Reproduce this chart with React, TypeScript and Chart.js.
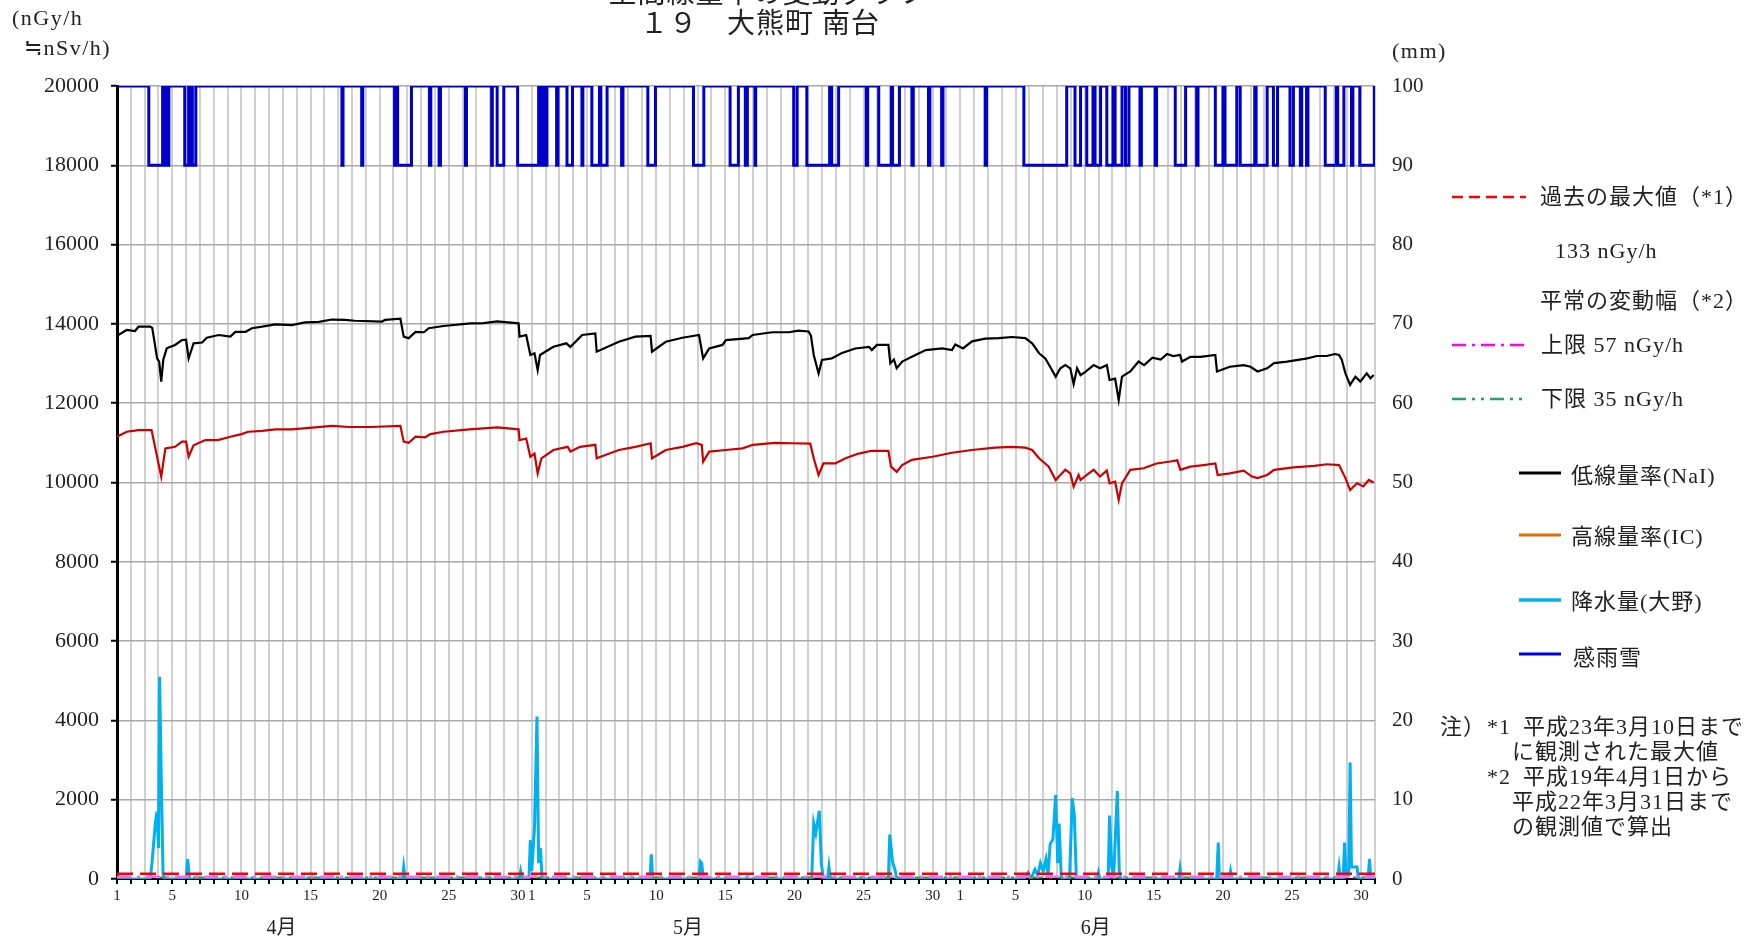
import { useEffect, useRef } from 'react';
import { Chart, registerables } from 'chart.js';

Chart.register(...registerables);

// ---------- data ----------
// time axis: days since 1 April (0 .. 91)
const monthNames = ['4月', '5月', '6月'];
const monthStartDay = [0, 30, 61];
const monthLabelDay = [11.9, 41.3, 70.8];
const shownDays = [1, 5, 10, 15, 20, 25, 30];

const leftTicksMax = 20000;
const rightTicksMax = 100;

// 低線量率 (NaI) nGy/h
const naiT = [0, 0.7, 1.3, 1.56, 2.4, 2.55, 2.9, 3.05, 3.2, 3.35, 3.6, 4.2, 4.7, 5.0, 5.18, 5.54, 6.15, 6.5, 7.35, 8.2, 8.56, 9.3, 9.76, 10.5, 11.45, 12.65, 13.6, 14.6, 15.55, 16.5, 17.2, 19.16, 19.4, 20.5, 20.74, 21.1, 21.6, 22.2, 22.55, 23.63, 25.56, 26.5, 27.5, 29.05, 29.12, 29.6, 29.9, 30.2, 30.43, 30.6, 31.57, 32.5, 32.8, 33.65, 34.6, 34.7, 36.3, 37.5, 38.6, 38.7, 39.7, 40.9, 42.1, 42.4, 42.84, 43.8, 44.05, 45.7, 45.98, 47.4, 48.6, 49.3, 50.03, 50.2, 50.4, 50.75, 51.0, 51.7, 52.4, 53.4, 54.4, 54.6, 54.97, 55.8, 55.94, 56.2, 56.4, 56.8, 57.5, 58.5, 59.7, 60.4, 60.64, 61.2, 61.85, 62.8, 63.8, 64.74, 65.7, 66.2, 66.7, 67.15, 67.5, 67.9, 68.24, 68.6, 68.96, 69.2, 69.45, 69.7, 70.05, 70.65, 71.1, 71.6, 71.8, 72.2, 72.46, 72.7, 73.3, 73.9, 74.3, 74.9, 75.5, 75.96, 76.4, 76.9, 77.04, 77.65, 78.37, 79.45, 79.57, 80.5, 81.5, 82.0, 82.5, 83.2, 83.7, 84.64, 86.1, 86.8, 87.5, 88.1, 88.4, 88.6, 88.86, 89.2, 89.58, 89.94, 90.4, 90.67, 90.9];
const naiV = [13700, 13846, 13820, 13930, 13930, 13900, 13130, 13050, 12543, 13100, 13384, 13470, 13590, 13600, 13130, 13510, 13530, 13650, 13720, 13680, 13800, 13800, 13890, 13930, 13990, 13970, 14040, 14050, 14110, 14100, 14080, 14060, 14100, 14130, 13680, 13640, 13800, 13790, 13890, 13947, 14015, 14020, 14065, 14015, 13680, 13720, 13215, 13260, 12837, 13215, 13425, 13510, 13420, 13720, 13760, 13300, 13550, 13680, 13700, 13300, 13550, 13650, 13720, 13130, 13380, 13470, 13590, 13640, 13720, 13790, 13790, 13830, 13810, 13700, 13215, 12754, 13090, 13130, 13260, 13380, 13420, 13340, 13470, 13470, 13006, 13100, 12880, 13050, 13170, 13340, 13380, 13340, 13480, 13380, 13560, 13630, 13640, 13670, 13640, 13510, 13260, 13130, 12920, 12670, 12880, 12960, 12880, 12484, 12880, 12710, 12790, 12960, 12880, 12960, 12585, 12620, 12080, 12670, 12800, 13050, 12960, 13150, 13100, 13240, 13190, 13215, 13050, 13170, 13170, 13215, 12800, 12920, 12960, 12920, 12800, 12880, 13010, 13050, 13130, 13190, 13190, 13240, 13215, 13090, 12754, 12460, 12670, 12544, 12754, 12630, 12710];

// 高線量率 (IC) nGy/h
const icT = [0, 0.7, 1.56, 2.5, 2.9, 3.2, 3.5, 4.2, 4.7, 5.0, 5.18, 5.54, 6.4, 7.3, 8.2, 9.0, 9.5, 10.5, 11.45, 12.65, 14.35, 15.55, 16.8, 18.3, 20.5, 20.74, 21.1, 21.6, 22.3, 22.67, 23.63, 25.5, 27.5, 29.05, 29.12, 29.6, 29.9, 30.2, 30.43, 30.7, 31.57, 32.6, 32.8, 33.5, 34.6, 34.7, 36.3, 37.5, 38.6, 38.7, 39.7, 40.9, 41.9, 42.3, 42.4, 42.84, 44.05, 45.25, 46.0, 47.6, 48.8, 50.15, 50.4, 50.75, 51.1, 51.96, 52.7, 53.65, 54.6, 55.8, 55.99, 56.4, 56.8, 57.5, 59.0, 60.4, 61.85, 63.5, 64.74, 65.7, 66.2, 66.7, 67.4, 67.9, 68.24, 68.6, 68.96, 69.2, 69.56, 69.7, 70.15, 70.65, 71.1, 71.6, 71.8, 72.2, 72.46, 72.7, 73.3, 74.27, 75.2, 76.2, 76.7, 76.92, 77.65, 78.6, 79.45, 79.62, 80.5, 81.5, 82.1, 82.5, 83.2, 83.7, 85.1, 86.6, 87.53, 88.4, 88.86, 89.2, 89.7, 90.15, 90.55, 90.9];
const icV = [11155, 11280, 11323, 11323, 10650, 10146, 10860, 10900, 11030, 11030, 10650, 10940, 11070, 11070, 11155, 11220, 11280, 11300, 11340, 11340, 11390, 11430, 11400, 11400, 11430, 11030, 11000, 11155, 11140, 11220, 11280, 11340, 11390, 11340, 11070, 11110, 10650, 10730, 10230, 10610, 10820, 10900, 10780, 10900, 10950, 10610, 10820, 10900, 10990, 10610, 10820, 10900, 10990, 10950, 10525, 10780, 10820, 10860, 10950, 11000, 10990, 10980, 10610, 10190, 10480, 10480, 10610, 10730, 10800, 10800, 10400, 10270, 10440, 10570, 10650, 10750, 10820, 10880, 10900, 10880, 10820, 10610, 10400, 10063, 10190, 10320, 10230, 9895, 10190, 10063, 10190, 10320, 10150, 10300, 9980, 10020, 9560, 9980, 10320, 10360, 10480, 10530, 10560, 10320, 10400, 10440, 10480, 10190, 10230, 10300, 10150, 10110, 10190, 10320, 10380, 10420, 10460, 10440, 10110, 9810, 9980, 9900, 10063, 10000];

// 降水量 (大野) mm
const rainT = [0, 2.4, 2.53, 2.77, 2.89, 3.0, 3.08, 3.2, 3.33, 3.45, 5.0, 5.11, 5.25, 20.65, 20.74, 20.85, 29.1, 29.2, 29.3, 29.8, 29.9, 30.0, 30.2, 30.38, 30.5, 30.63, 30.75, 38.55, 38.65, 38.75, 42.1, 42.2, 42.3, 42.4, 50.25, 50.4, 50.55, 50.8, 50.95, 51.1, 51.4, 51.5, 51.6, 55.8, 55.9, 56.1, 56.3, 56.4, 65.6, 65.9, 66.1, 66.4, 66.6, 66.8, 67.0, 67.2, 67.35, 67.5, 67.7, 67.9, 68.05, 68.15, 68.3, 68.4, 68.9, 69.1, 69.25, 69.4, 70.9, 71.0, 71.1, 71.7, 71.8, 71.95, 72.1, 72.36, 72.5, 72.6, 76.8, 76.9, 77.0, 79.55, 79.66, 79.75, 80.45, 80.55, 80.65, 88.3, 88.4, 88.5, 88.7, 88.8, 88.9, 89.1, 89.2, 89.3, 89.5, 89.7, 89.8, 90.5, 90.6, 90.7, 91];
const rainV = [0, 0, 2.0, 7.0, 8.5, 3.9, 25.5, 12.9, 0.6, 0, 0, 2.5, 0, 0, 1.5, 0, 0, 1.0, 0.2, 0, 4.9, 1.0, 6.4, 20.5, 2.0, 3.9, 0, 0, 3.1, 0, 0, 2.2, 2.0, 0, 0, 7.0, 5.8, 8.6, 2.0, 0, 0, 1.5, 0, 0, 5.6, 2.2, 1.0, 0, 0, 0.8, 0, 1.2, 0.5, 2.0, 1.0, 2.5, 0.5, 4.4, 5.0, 10.6, 2.0, 7.0, 0.5, 0, 0, 10.2, 8.0, 0, 0, 0.8, 0, 0, 8.0, 1.5, 0.5, 11.1, 1.0, 0, 0, 1.3, 0, 0, 4.6, 0, 0, 1.0, 0, 0, 1.5, 0, 0, 4.6, 0.5, 0.5, 14.7, 1.5, 1.5, 1.5, 0, 0, 2.5, 0, 0];

// 感雨雪: intervals (start day, end day) where sensor reads 90 (otherwise 100)
const senseStart = [2.3, 3.4, 3.6, 4.9, 5.25, 5.45, 16.27, 17.7, 20.08, 20.3, 22.6, 23.3, 25.2, 27.1, 27.5, 28.98, 30.6, 30.9, 31.8, 32.55, 33.63, 34.35, 35.0, 36.5, 38.4, 41.7, 44.35, 45.45, 46.15, 48.95, 49.9, 51.7, 54.2, 55.1, 56.1, 57.5, 58.7, 59.65, 62.8, 65.6, 69.3, 70.15, 70.75, 71.6, 72.2, 72.95, 74.0, 75.1, 76.55, 78.1, 79.45, 80.15, 81.25, 82.4, 83.65, 84.85, 85.6, 86.05, 87.4, 88.3, 89.3, 89.9];
const senseEnd = [3.3, 3.5, 3.75, 5.18, 5.3, 5.7, 16.35, 17.78, 20.2, 21.3, 22.7, 23.4, 25.28, 27.15, 27.98, 30.5, 30.75, 31.1, 31.9, 32.95, 33.7, 34.9, 35.45, 36.6, 38.95, 42.45, 44.95, 45.6, 46.2, 49.2, 51.55, 52.2, 54.3, 56.0, 56.6, 57.6, 58.8, 59.75, 62.9, 68.7, 69.7, 70.6, 71.15, 72.05, 72.7, 73.2, 74.1, 75.2, 77.3, 78.2, 80.0, 81.0, 82.3, 83.2, 83.95, 85.1, 85.7, 86.15, 88.2, 88.75, 89.4, 90.95];
const senseOn = 90;
const senseOff = 100;

// reference lines (nGy/h)
const pastMax = 133;
const upperLimit = 57;
const lowerLimit = 35;

const legendLabels = ['過去の最大値（*1）', '133 nGy/h', '平常の変動幅（*2）', '上限 57 nGy/h', '下限 35 nGy/h', '低線量率(NaI)', '高線量率(IC)', '降水量(大野)', '感雨雪'];
const noteLines = ['注）', '*1', '平成23年3月10日まで', 'に観測された最大値', '*2', '平成19年4月1日から', '平成22年3月31日まで', 'の観測値で算出'];
const titleLines = ['空間線量率の変動グラフ', '１９　大熊町 南台'];

// ---------- helpers ----------
const FONT = '"Liberation Serif", "Noto Sans CJK JP", serif';
const TEXT = '#222222';

const zip = (t: number[], v: number[]) => t.map((x, i) => ({ x, y: v[i] }));

function senseData() {
  const pts: { x: number; y: number }[] = [{ x: 0, y: senseOff }];
  senseStart.forEach((a, i) => {
    const b = senseEnd[i];
    pts.push({ x: a, y: senseOff }, { x: a, y: senseOn }, { x: b, y: senseOn }, { x: b, y: senseOff });
  });
  pts.push({ x: 91, y: senseOff });
  return pts;
}

function dayLabel(d: number): string {
  let m = 0;
  for (let i = 0; i < monthStartDay.length; i++) if (d >= monthStartDay[i]) m = i;
  const dom = d - monthStartDay[m] + 1;
  if (d >= 91) return '';
  return shownDays.includes(dom) ? String(dom) : '';
}

const decorPlugin = {
  id: 'decor',
  afterDraw(chart: any) {
    const ctx = chart.ctx as any;
    const xs = chart.scales.x;
    ctx.save();
    ctx.fillStyle = TEXT;
    ctx.textBaseline = 'middle';

    // title
    ctx.textAlign = 'center';
    ctx.font = `28px ${FONT}`;
    ctx.letterSpacing = '1px';
    ctx.fillText(titleLines[0], 768, -4);
    ctx.fillText(titleLines[1], 760, 26);

    // months
    ctx.letterSpacing = '0px';
    ctx.font = `20px ${FONT}`;
    monthNames.forEach((m, i) => ctx.fillText(m, xs.getPixelForValue(monthLabelDay[i]), 929));

    // unit labels
    ctx.textAlign = 'left';
    ctx.font = `22px ${FONT}`;
    ctx.letterSpacing = '1.5px';
    ctx.fillText('(nGy/h', 12, 19);
    ctx.fillText('≒nSv/h)', 24, 49);
    ctx.fillText('(mm)', 1392, 52);

    // legend samples
    const line = (x1: number, x2: number, y: number, color: string, w: number, dash: number[]) => {
      ctx.save();
      ctx.strokeStyle = color;
      ctx.lineWidth = w;
      ctx.setLineDash(dash);
      ctx.beginPath();
      ctx.moveTo(x1, y);
      ctx.lineTo(x2, y);
      ctx.stroke();
      ctx.restore();
    };
    line(1452, 1526, 197, '#ff0000', 2.5, [11, 6]);
    line(1452, 1526, 345, '#ff00ff', 2.5, [14, 6, 3, 6]);
    line(1452, 1526, 399, '#339966', 2.5, [14, 6, 3, 6, 3, 6]);
    line(1519, 1561, 473, '#000000', 3, []);
    line(1519, 1561, 535, '#e46c0a', 3, []);
    line(1519, 1561, 600, '#00b0f0', 3.5, []);
    line(1519, 1561, 654, '#0000dd', 3, []);

    ctx.font = `22px ${FONT}`;
    ctx.letterSpacing = '1px';
    ctx.fillText(legendLabels[0], 1540, 198);
    ctx.fillText(legendLabels[1], 1555, 252);
    ctx.fillText(legendLabels[2], 1540, 302);
    ctx.fillText(legendLabels[3], 1541, 346);
    ctx.fillText(legendLabels[4], 1541, 400);
    ctx.fillText(legendLabels[5], 1571, 477);
    ctx.fillText(legendLabels[6], 1571, 538);
    ctx.fillText(legendLabels[7], 1571, 603);
    ctx.fillText(legendLabels[8], 1573, 659);

    // notes
    ctx.font = `22px ${FONT}`;
    ctx.letterSpacing = '1px';
    ctx.fillText(noteLines[0], 1440, 728);
    ctx.fillText(noteLines[1], 1487, 728);
    ctx.fillText(noteLines[2], 1523, 728);
    ctx.fillText(noteLines[3], 1512, 753);
    ctx.fillText(noteLines[4], 1487, 778);
    ctx.fillText(noteLines[5], 1523, 778);
    ctx.fillText(noteLines[6], 1512, 803);
    ctx.fillText(noteLines[7], 1512, 828);
    ctx.restore();
  },
};

export default function App() {
  const ref = useRef<HTMLCanvasElement | null>(null);

  useEffect(() => {
    if (!ref.current) return;
    const chart = new Chart(ref.current, {
      type: 'line',
      data: {
        datasets: [
          {
            label: '過去の最大値',
            data: [{ x: 0, y: pastMax }, { x: 91, y: pastMax }],
            borderColor: '#ff0000',
            borderWidth: 2.5,
            borderDash: [16, 7],
            yAxisID: 'y',
            order: 0,
          },
          {
            label: '上限',
            data: [{ x: 0, y: upperLimit }, { x: 91, y: upperLimit }],
            borderColor: '#ff66ff',
            borderWidth: 2.5,
            borderDash: [14, 6, 3, 6],
            yAxisID: 'y',
            order: 1,
          },
          {
            label: '下限',
            data: [{ x: 0, y: lowerLimit }, { x: 91, y: lowerLimit }],
            borderColor: '#339966',
            borderWidth: 2,
            borderDash: [14, 6, 3, 6, 3, 6],
            yAxisID: 'y',
            order: 1,
          },
          {
            label: '低線量率(NaI)',
            data: zip(naiT, naiV),
            borderColor: '#000000',
            borderWidth: 2.2,
            yAxisID: 'y',
            order: 2,
          },
          {
            label: '高線量率(IC)',
            data: zip(icT, icV),
            borderColor: '#cc0000',
            borderWidth: 2.2,
            yAxisID: 'y',
            order: 3,
          },
          {
            label: '感雨雪',
            data: senseData(),
            borderColor: '#0000cc',
            borderWidth: 3,
            yAxisID: 'y2',
            order: 4,
          },
          {
            label: '降水量(大野)',
            data: zip(rainT, rainV),
            borderColor: '#00b0f0',
            borderWidth: 3,
            yAxisID: 'y2',
            order: 5,
          },
        ],
      },
      options: {
        animation: false,
        responsive: false,
        elements: { point: { radius: 0 }, line: { tension: 0 } },
        layout: { padding: { top: 86, left: 0, right: 0, bottom: 0 } },
        plugins: { legend: { display: false }, tooltip: { enabled: false } },
        scales: {
          x: {
            type: 'linear',
            min: 0,
            max: 91,
            afterBuildTicks: (scale: any) => {
              scale.ticks = Array.from({ length: 92 }, (_, i) => ({ value: i }));
            },
            afterFit: (scale: any) => {
              scale.height = 66;
            },
            ticks: {
              autoSkip: false,
              maxRotation: 0,
              minRotation: 0,
              padding: 3,
              color: TEXT,
              font: { family: FONT, size: 15 },
              callback: (v: any) => dayLabel(Number(v)),
            },
            grid: { color: '#d0d0d0', lineWidth: 2, tickColor: '#000000', tickLength: 5, tickWidth: 2 },
            border: { display: true, color: '#000000', width: 2 },
          },
          y: {
            type: 'linear',
            position: 'left',
            min: 0,
            max: leftTicksMax,
            afterFit: (scale: any) => {
              scale.width = 117;
            },
            ticks: {
              stepSize: 2000,
              padding: 12,
              color: TEXT,
              font: { family: FONT, size: 22 },
              callback: (v: any) => String(v),
            },
            grid: { color: '#a8a8a8', lineWidth: 1.5, tickColor: '#000000', tickLength: 6, tickWidth: 2 },
            border: { display: true, color: '#000000', width: 3 },
          },
          y2: {
            type: 'linear',
            position: 'right',
            min: 0,
            max: rightTicksMax,
            afterFit: (scale: any) => {
              scale.width = 380;
            },
            ticks: {
              stepSize: 10,
              padding: 17,
              color: TEXT,
              font: { family: FONT, size: 21 },
              callback: (v: any) => String(v),
            },
            grid: { display: false, drawTicks: false },
            border: { display: false },
          },
        },
      },
      plugins: [decorPlugin],
    } as any);
    return () => chart.destroy();
  }, []);

  return (
    <div style={{ position: 'absolute', left: 0, top: 0, width: 1755, height: 945, background: '#ffffff' }}>
      <canvas ref={ref} width={1755} height={945} style={{ display: 'block' }} />
    </div>
  );
}
